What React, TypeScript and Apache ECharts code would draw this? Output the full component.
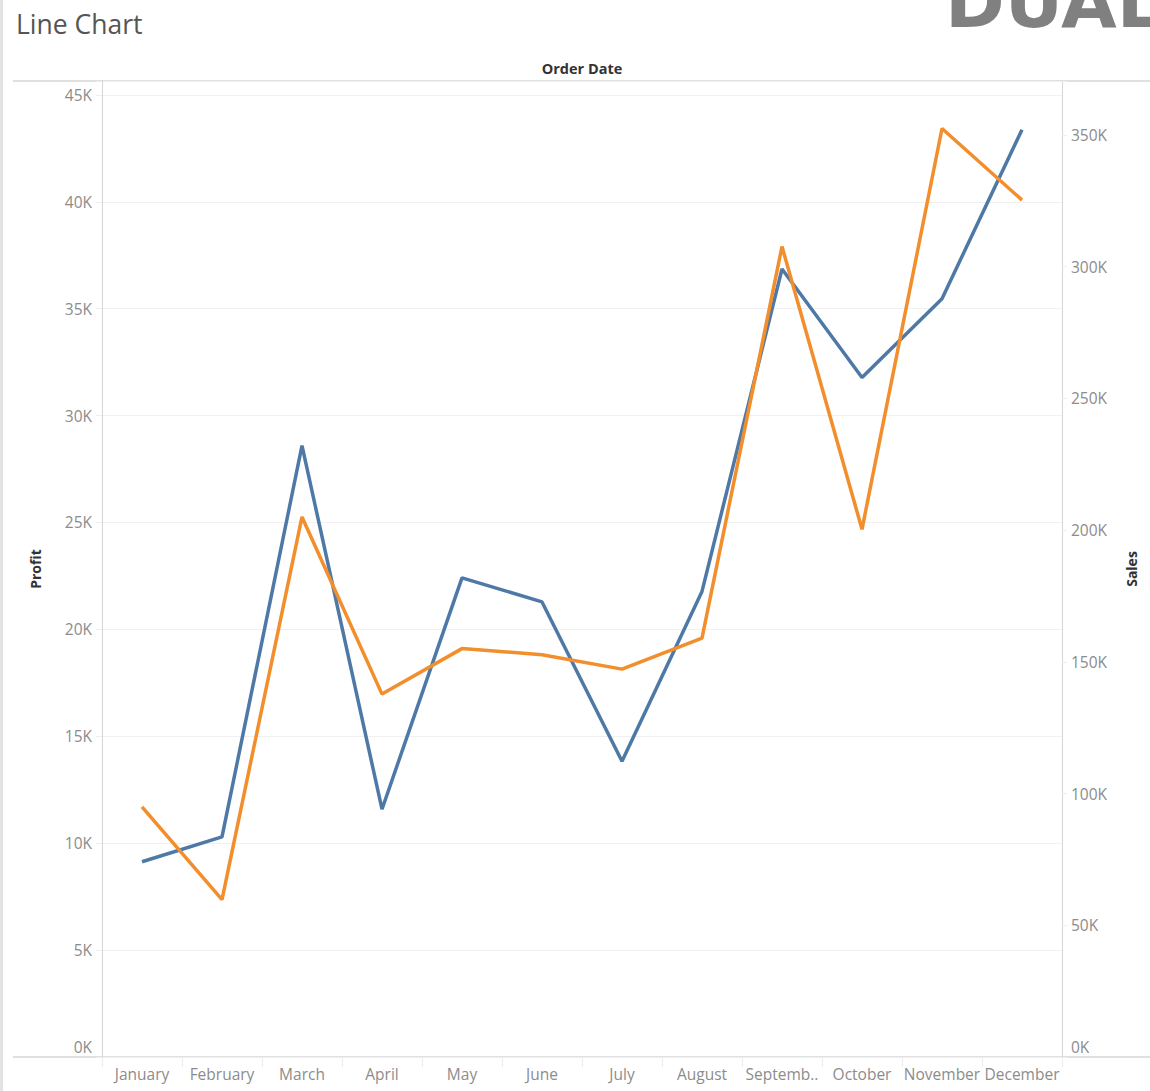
import React, { useEffect, useRef } from "react";
import * as echarts from "echarts";

const months = [
  "January", "February", "March", "April", "May", "June",
  "July", "August", "September", "October", "November", "December",
];
const profit = [9134, 10295, 28595, 11588, 22411, 21285, 13833, 21776, 36857, 31784, 35469, 43369];
const sales = [94925, 59751, 205005, 137762, 155029, 152718, 147238, 159044, 307650, 200323, 352461, 325294];
const profitTicks = [0, 5000, 10000, 15000, 20000, 25000, 30000, 35000, 40000, 45000];
const salesTicks = [0, 50000, 100000, 150000, 200000, 250000, 300000, 350000];

const FONT = "'Open Sans', sans-serif";
const LABEL_COLOR = "#8c8c8c";
const LINE_COLOR = "#d6d6d6";
const LABEL_SIZE = 15.5;

function fmtK(v: number) {
  return Math.round(v / 1000) + "K";
}

export default function App() {
  const ref = useRef<HTMLDivElement>(null);
  useEffect(() => {
    if (!ref.current) return;
    const chart = echarts.init(ref.current, undefined, { renderer: "svg" });
    const labelFormatter = (ticks: number[]) => (v: number) => {
      if (!ticks.includes(v)) return "";
      if (v === 0) return "{z|0K}";
      return fmtK(v);
    };
    chart.setOption({
      animation: false,
      backgroundColor: "#ffffff",
      textStyle: { fontFamily: FONT },
      grid: { left: 102, right: 88, top: 81, bottom: 34, containLabel: false },
      xAxis: {
        type: "category",
        data: months,
        boundaryGap: true,
        axisLine: { show: false },
        axisTick: { show: true, alignWithLabel: false, length: 10, lineStyle: { color: "#ececec" } },
        axisLabel: {
          color: LABEL_COLOR,
          fontSize: LABEL_SIZE,
          fontFamily: FONT,
          margin: 9,
          interval: 0,
          formatter: (v: string) => (v.length > 8 ? v.slice(0, 7) + ".." : v),
        },
        splitLine: { show: false },
      },
      yAxis: [
        {
          type: "value",
          name: "Profit",
          nameLocation: "middle",
          nameGap: 60,
          nameRotate: 90,
          nameTextStyle: { color: "#333", fontSize: 14, fontWeight: "bold", fontFamily: FONT },
          min: 0,
          max: 45650,
          interval: 5000,
          axisLine: { show: true, lineStyle: { color: LINE_COLOR } },
          axisTick: { show: true, length: 6, lineStyle: { color: "#eeeeee" } },
          axisLabel: {
            color: LABEL_COLOR,
            fontSize: LABEL_SIZE,
            fontFamily: FONT,
            margin: 10,
            formatter: labelFormatter(profitTicks),
            rich: { z: { color: LABEL_COLOR, fontSize: LABEL_SIZE, fontFamily: FONT, padding: [0, 0, 20, 0] } },
          },
          splitLine: { show: true, lineStyle: { color: "#f0f0f0", width: 1 } },
        },
        {
          type: "value",
          name: "Sales",
          nameLocation: "middle",
          nameGap: 62,
          nameRotate: 90,
          nameTextStyle: { color: "#333", fontSize: 14, fontWeight: "bold", fontFamily: FONT },
          min: 0,
          max: 370500,
          interval: 50000,
          position: "right",
          axisLine: { show: true, lineStyle: { color: LINE_COLOR } },
          axisTick: { show: true, length: 5, lineStyle: { color: "#eeeeee" } },
          axisLabel: {
            color: LABEL_COLOR,
            fontSize: LABEL_SIZE,
            fontFamily: FONT,
            margin: 9,
            formatter: labelFormatter(salesTicks),
            rich: { z: { color: LABEL_COLOR, fontSize: LABEL_SIZE, fontFamily: FONT, padding: [0, 0, 20, 0] } },
          },
          splitLine: { show: false },
        },
      ],
      series: [
        {
          name: "Profit",
          type: "line",
          yAxisIndex: 0,
          data: profit,
          symbol: "none",
          lineStyle: { color: "#4e79a7", width: 3.5 },
          itemStyle: { color: "#4e79a7" },
          z: 3,
        },
        {
          name: "Sales",
          type: "line",
          yAxisIndex: 1,
          data: sales,
          symbol: "none",
          lineStyle: { color: "#f28e2b", width: 3.5 },
          itemStyle: { color: "#f28e2b" },
          z: 4,
        },
      ],
      graphic: [
        { type: "rect", left: 0, top: 0, shape: { width: 3, height: 1091 }, style: { fill: "#e3e3e3" } },
        { type: "line", shape: { x1: 13, y1: 81, x2: 1150, y2: 81 }, style: { stroke: LINE_COLOR, lineWidth: 1.5 } },
        { type: "line", shape: { x1: 13, y1: 1057, x2: 1150, y2: 1057 }, style: { stroke: LINE_COLOR, lineWidth: 1.5 } },
        {
          type: "text",
          left: 16,
          top: 10,
          style: { text: "Line Chart", fill: "#555555", font: `26.5px ${FONT}` },
        },
        {
          type: "text",
          x: 582,
          y: 68,
          style: {
            text: "Order Date",
            fill: "#333333",
            font: `bold 14.5px ${FONT}`,
            textAlign: "center",
            textVerticalAlign: "middle",
          },
        },
        {
          type: "text",
          x: 945,
          y: 38,
          style: {
            text: "DUAL",
            fill: "#808080",
            font: `bold 72px 'DejaVu Sans'`,
            textAlign: "left",
            textVerticalAlign: "bottom",
          },
        },
      ],
    });
    return () => chart.dispose();
  }, []);
  return (
    <div
      ref={ref}
      style={{ position: "absolute", left: 0, top: 0, width: 1150, height: 1091 }}
    />
  );
}
